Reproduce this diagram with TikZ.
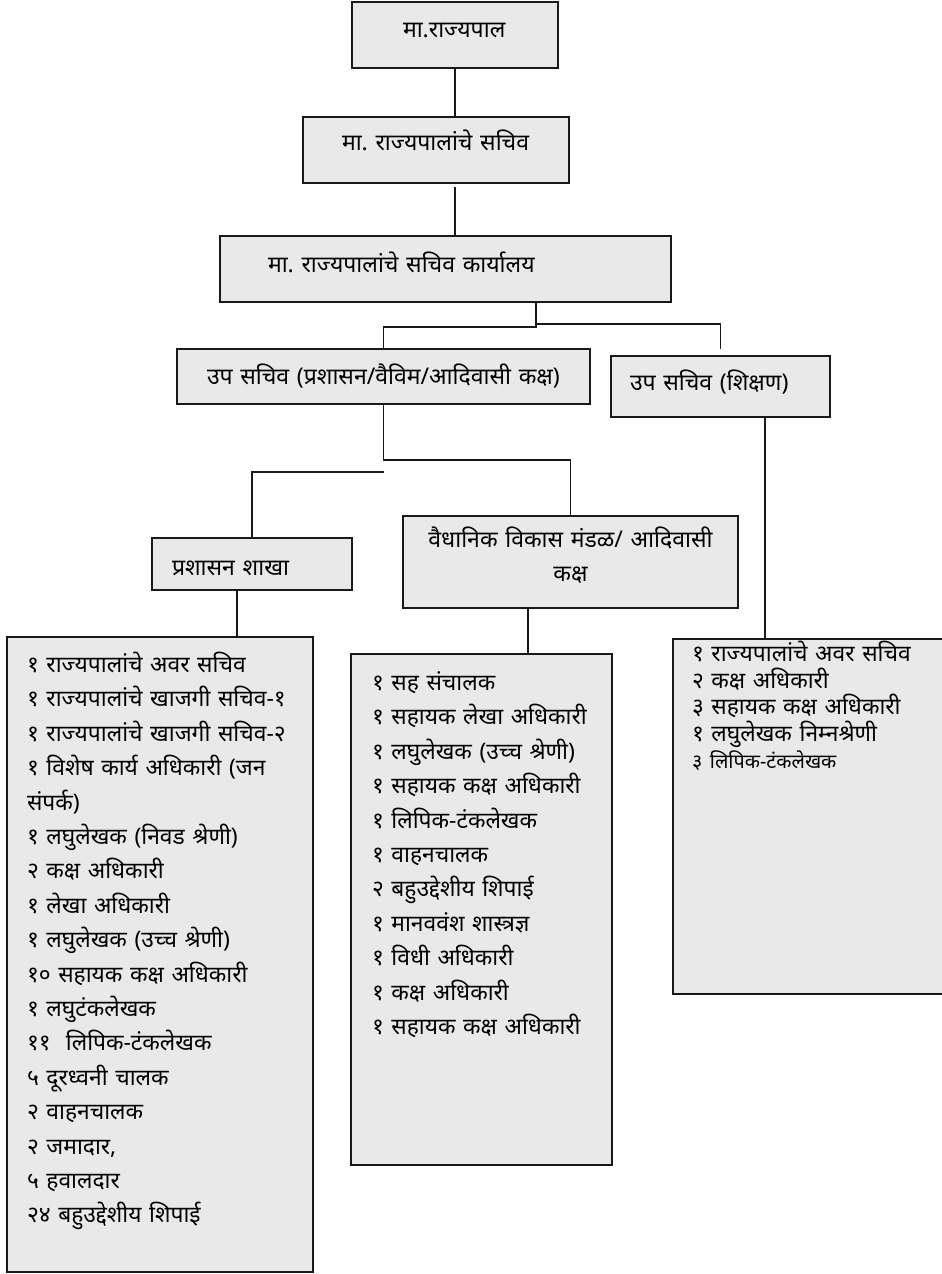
\documentclass[tikz,border=0pt]{standalone}
\usepackage{fontspec}
\setmainfont[Script=Devanagari]{Noto Sans}
\usepackage{tikz}
\usetikzlibrary{calc}
\definecolor{boxgray}{HTML}{E9E9E9}
\frenchspacing

\begin{document}
\begin{tikzpicture}[
    x=0.5pt, y=-0.5pt,
    every node/.style={font=\fontsize{11.4}{17.2}\selectfont},
    orgbox/.style={rectangle, draw=black!90, line width=1pt, fill=boxgray, anchor=north west, inner xsep=0pt, inner ysep=0pt, outer sep=0pt, align=left},
    headbox/.style={orgbox, font=\fontsize{11.5}{17}\selectfont},
    leftpad/.style={execute at begin node={\leftskip=#1\relax}},
    link/.style={line width=0.8pt, black!90}
]
\useasboundingbox (0,0) rectangle (942,1274);

% top of the chart
\node (gov) [headbox, text width=103pt, text height=17.5pt, text depth=15.5pt, leftpad=25.5pt] at (352,2) {मा.राज्यपाल};
\node (sec) [headbox, text width=133pt, text height=16.5pt, text depth=16.5pt, leftpad=19.5pt] at (303,117) {मा. राज्यपालांचे सचिव};
\node (office) [headbox, text width=225.5pt, text height=18pt, text depth=15pt, leftpad=24pt] at (220,236) {मा. राज्यपालांचे सचिव कार्यालय};

% deputy secretaries
\node (depadm) [headbox, text width=206.5pt, text height=17.75pt, text depth=9.75pt, leftpad=15pt] at (177,349) {उप सचिव (प्रशासन/वैविम/आदिवासी कक्ष)};
\node (depedu) [headbox, text width=109.5pt, text height=17pt, text depth=13.5pt, leftpad=9.5pt] at (611,356) {उप सचिव (शिक्षण)};

% branches
\node (admbr) [headbox, text width=100pt, text height=18.75pt, text depth=7.25pt, leftpad=10pt] at (152,538) {प्रशासन शाखा};
\node (vdb) [headbox, align=center, text width=167.5pt, text height=15.75pt, text depth=30.25pt] at (403,516) {वैधानिक विकास मंडळ/ आदिवासी\\कक्ष};

% staff lists
\node (admlist) [orgbox, text width=153pt, text height=17.75pt, text depth=299.75pt, leftpad=10pt] at (7,637) {%
१ राज्यपालांचे अवर सचिव\\
१ राज्यपालांचे खाजगी सचिव-१\\
१ राज्यपालांचे खाजगी सचिव-२\\
१ विशेष कार्य अधिकारी (जन\\
संपर्क)\\
१ लघुलेखक (निवड श्रेणी)\\
२ कक्ष अधिकारी\\
१ लेखा अधिकारी\\
१ लघुलेखक (उच्च श्रेणी)\\
१० सहायक कक्ष अधिकारी\\
१ लघुटंकलेखक\\
११\ \ लिपिक-टंकलेखक\\
५ दूरध्वनी चालक\\
२ वाहनचालक\\
२ जमादार,\\
५ हवालदार\\
२४ बहुउद्देशीय शिपाई};
\node (vdblist) [orgbox, text width=130.5pt, text height=18.25pt, text depth=237.25pt, leftpad=10.5pt] at (351,654) {%
१ सह संचालक\\
१ सहायक लेखा अधिकारी\\
१ लघुलेखक (उच्च श्रेणी)\\
१ सहायक कक्ष अधिकारी\\
१ लिपिक-टंकलेखक\\
१ वाहनचालक\\
२ बहुउद्देशीय शिपाई\\
१ मानववंश शास्त्रज्ञ\\
१ विधी अधिकारी\\
१ कक्ष अधिकारी\\
१ सहायक कक्ष अधिकारी};
\node (edulist) [orgbox, font=\fontsize{11.4}{13.35}\selectfont, text width=138.5pt, text height=11.25pt, text depth=166.25pt, leftpad=9.5pt] at (673,639) {%
१ राज्यपालांचे अवर सचिव\\
२ कक्ष अधिकारी\\
३ सहायक कक्ष अधिकारी\\
१ लघुलेखक निम्नश्रेणी\\
{\fontsize{9.9}{13.35}\selectfont ३ लिपिक-टंकलेखक}};

% junctions
\coordinate (j1) at (536,327);
\coordinate (j2) at (536,324);
\coordinate (eduend) at (720.5,349);
\coordinate (j3) at (383.5,460);
\coordinate (j4) at (383.5,472);
\coordinate (fdrop) at (237,0);
\coordinate (gdrop) at (528,0);
\coordinate (edrop) at (765,0);

\draw [link] (gov.south) -- (gov.south |- sec.north);
\draw [link] ([yshift=-2pt]gov.south |- sec.south) -- (gov.south |- office.north);
\draw [link] (office.south -| j1) -- (j1) -| (depadm.north);
\draw [link] (j2) -| (eduend);
\draw [link] (depadm.south) -- (j3) -| (vdb.north);
\draw [link] (j4) -| (admbr.north);
\draw [link] (admbr.south -| fdrop) -- (admlist.north -| fdrop);
\draw [link] (vdb.south -| gdrop) -- (vdblist.north -| gdrop);
\draw [link] (depedu.south -| edrop) -- (edulist.north -| edrop);
\end{tikzpicture}
\end{document}
